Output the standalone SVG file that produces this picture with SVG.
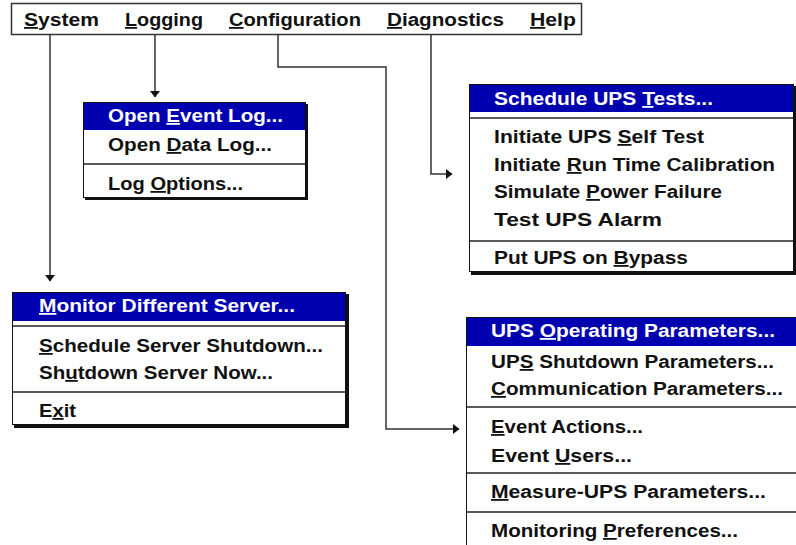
<svg xmlns="http://www.w3.org/2000/svg" width="796" height="545" viewBox="0 0 796 545">
<defs>
<style>
.t{font-family:"Liberation Sans",Arial,sans-serif;font-size:18px;font-weight:bold;fill:#111}
.w{fill:#fff}
.u{text-decoration:underline}
.box{fill:#fff;stroke:#111;stroke-width:1}
.sh{fill:#111}
.hl{fill:#0000b0}
.sep{stroke:#222;stroke-width:1.5}
.c{fill:none;stroke:#333;stroke-width:1.5}
</style>
<marker id="ah" markerWidth="10" markerHeight="12" refX="6" refY="5" orient="auto" markerUnits="userSpaceOnUse">
<path d="M0,0 L6.5,5 L0,10 Z" fill="#111"/>
</marker>
</defs>
<rect width="796" height="545" fill="#fff"/>

<g id="menubar">
<rect x="11.5" y="3.5" width="570" height="31" fill="#fff" stroke="#333" stroke-width="1.5"/>
<text class="t" x="24" y="26" textLength="75" lengthAdjust="spacingAndGlyphs"><tspan class="u">S</tspan>ystem</text>
<text class="t" x="125" y="26" textLength="78" lengthAdjust="spacingAndGlyphs"><tspan class="u">L</tspan>ogging</text>
<text class="t" x="229" y="26" textLength="132" lengthAdjust="spacingAndGlyphs"><tspan class="u">C</tspan>onfiguration</text>
<text class="t" x="387" y="26" textLength="117" lengthAdjust="spacingAndGlyphs"><tspan class="u">D</tspan>iagnostics</text>
<text class="t" x="530" y="26" textLength="46" lengthAdjust="spacingAndGlyphs"><tspan class="u">H</tspan>elp</text>
</g>

<g id="connectors">
<path class="c" d="M50,35 V281" marker-end="url(#ah)"/>
<path class="c" d="M155,35 V97" marker-end="url(#ah)"/>
<path class="c" d="M278,35 V67 H386 V429 H459" marker-end="url(#ah)"/>
<path class="c" d="M431,35 V174 H452" marker-end="url(#ah)"/>
</g>

<g id="logging-menu">
<rect class="sh" x="85" y="104" width="223" height="96"/>
<rect class="box" x="83.5" y="102.5" width="222" height="95"/>
<rect class="hl" x="84" y="103" width="221" height="27"/>
<line class="sep" x1="84" y1="164" x2="305" y2="164"/>
<text class="t w" x="108" y="122" textLength="175" lengthAdjust="spacingAndGlyphs">Open <tspan class="u">E</tspan>vent Log...</text>
<text class="t" x="108" y="151" textLength="164" lengthAdjust="spacingAndGlyphs">Open <tspan class="u">D</tspan>ata Log...</text>
<text class="t" x="108" y="190" textLength="135" lengthAdjust="spacingAndGlyphs">Log <tspan class="u">O</tspan>ptions...</text>
</g>

<g id="diagnostics-menu">
<rect class="sh" x="471" y="86" width="326" height="189"/>
<rect class="box" x="469.5" y="84.5" width="324" height="187"/>
<rect class="hl" x="470" y="85" width="323" height="27"/>
<line class="sep" x1="470" y1="118" x2="793" y2="118"/>
<line class="sep" x1="470" y1="241" x2="793" y2="241"/>
<text class="t w" x="494" y="105" textLength="219" lengthAdjust="spacingAndGlyphs">Schedule UPS <tspan class="u">T</tspan>ests...</text>
<text class="t" x="494" y="143" textLength="210" lengthAdjust="spacingAndGlyphs">Initiate UPS <tspan class="u">S</tspan>elf Test</text>
<text class="t" x="494" y="171" textLength="281" lengthAdjust="spacingAndGlyphs">Initiate <tspan class="u">R</tspan>un Time Calibration</text>
<text class="t" x="494" y="198" textLength="228" lengthAdjust="spacingAndGlyphs">Simulate <tspan class="u">P</tspan>ower Failure</text>
<text class="t" x="494" y="226" textLength="168" lengthAdjust="spacingAndGlyphs">Test UPS Alarm</text>
<text class="t" x="494" y="264" textLength="194" lengthAdjust="spacingAndGlyphs">Put UPS on <tspan class="u">B</tspan>ypass</text>
</g>

<g id="system-menu">
<rect class="sh" x="14" y="294" width="335" height="134"/>
<rect class="box" x="12.5" y="292.5" width="333" height="132"/>
<rect class="hl" x="13" y="293" width="332" height="28"/>
<line class="sep" x1="13" y1="326" x2="345" y2="326"/>
<line class="sep" x1="13" y1="392" x2="345" y2="392"/>
<text class="t w" x="39" y="312" textLength="256" lengthAdjust="spacingAndGlyphs"><tspan class="u">M</tspan>onitor Different Server...</text>
<text class="t" x="39" y="352" textLength="284" lengthAdjust="spacingAndGlyphs"><tspan class="u">S</tspan>chedule Server Shutdown...</text>
<text class="t" x="39" y="379" textLength="234" lengthAdjust="spacingAndGlyphs">Sh<tspan class="u">u</tspan>tdown Server Now...</text>
<text class="t" x="39" y="417" textLength="37" lengthAdjust="spacingAndGlyphs">E<tspan class="u">x</tspan>it</text>
</g>

<g id="configuration-menu">
<rect class="box" x="466.5" y="317.5" width="340" height="240"/>
<rect class="hl" x="467" y="318" width="329" height="28"/>
<line class="sep" x1="467" y1="407" x2="796" y2="407"/>
<line class="sep" x1="467" y1="473" x2="796" y2="473"/>
<line class="sep" x1="467" y1="512" x2="796" y2="512"/>
<text class="t w" x="491" y="337" textLength="284" lengthAdjust="spacingAndGlyphs">UPS <tspan class="u">O</tspan>perating Parameters...</text>
<text class="t" x="491" y="368" textLength="283" lengthAdjust="spacingAndGlyphs">UP<tspan class="u">S</tspan> Shutdown Parameters...</text>
<text class="t" x="491" y="395" textLength="292" lengthAdjust="spacingAndGlyphs"><tspan class="u">C</tspan>ommunication Parameters...</text>
<text class="t" x="491" y="433" textLength="152" lengthAdjust="spacingAndGlyphs"><tspan class="u">E</tspan>vent Actions...</text>
<text class="t" x="491" y="462" textLength="141" lengthAdjust="spacingAndGlyphs">Event <tspan class="u">U</tspan>sers...</text>
<text class="t" x="491" y="498" textLength="275" lengthAdjust="spacingAndGlyphs"><tspan class="u">M</tspan>easure-UPS Parameters...</text>
<text class="t" x="491" y="537" textLength="247" lengthAdjust="spacingAndGlyphs">Monitoring <tspan class="u">P</tspan>references...</text>
</g>
</svg>
